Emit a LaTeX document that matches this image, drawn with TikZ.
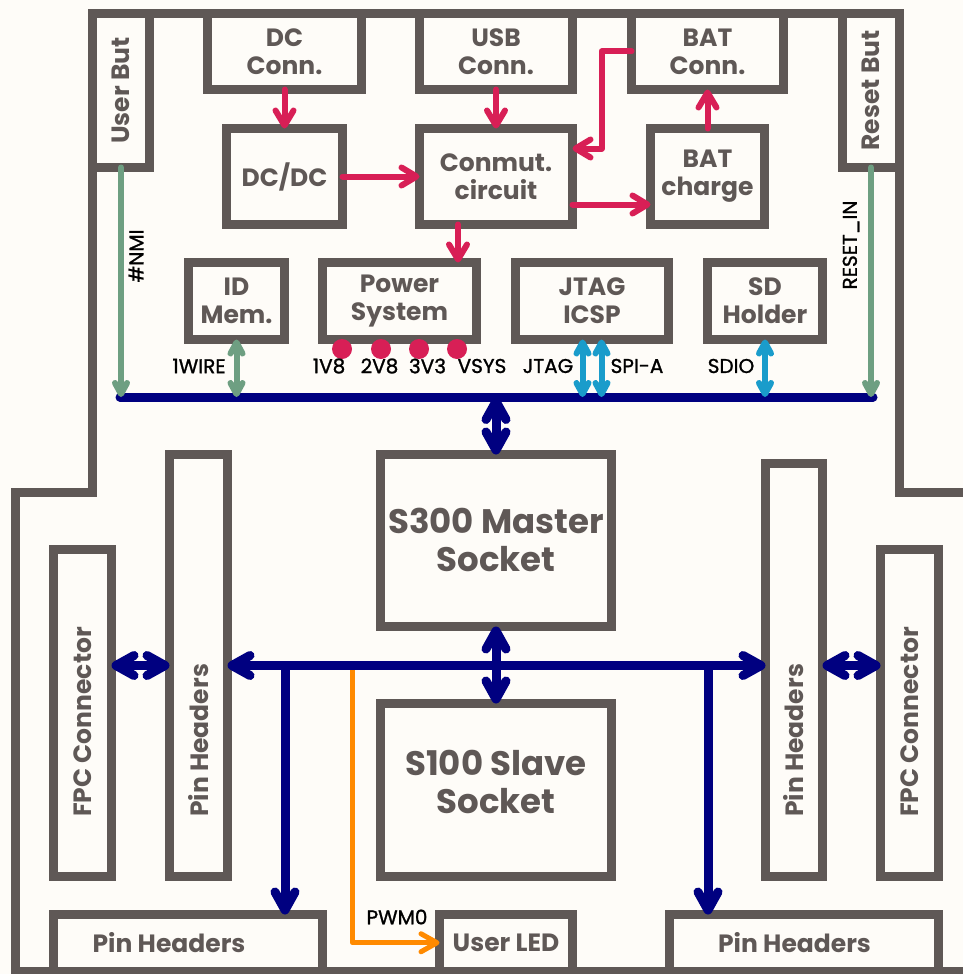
\documentclass[tikz,border=0pt]{standalone}
\usepackage{fontspec}
\setmainfont{Poppins}
\newfontfamily\sigfont{Poppins}[FakeBold=1.2]
\usetikzlibrary{arrows.meta}
\definecolor{paper}{HTML}{FEFCF8}
\definecolor{boxgray}{HTML}{5F5856}
\definecolor{redc}{HTML}{D81F56}
\definecolor{navyc}{HTML}{000080}
\definecolor{greenc}{HTML}{6E9F82}
\definecolor{cyanc}{HTML}{1A9CCB}
\definecolor{orangec}{HTML}{FF8A00}
\tikzset{
  board/.style={draw=boxgray, line width=9pt, line join=miter},
  box/.style={draw=boxgray, line width=9pt, outer sep=0pt, inner sep=0pt, text=boxgray,
    font=\fontsize{25}{28}\selectfont\bfseries, align=center},
  boxtxt/.style={text=boxgray, inner sep=0pt, font=\fontsize{25}{28}\selectfont\bfseries},
  vtxt/.style={boxtxt, rotate=90, anchor=west},
  bigtxt/.style={text=boxgray, inner sep=0pt, align=center, font=\fontsize{34}{38}\selectfont\bfseries},
  sig/.style={text=black, inner sep=0pt, font=\fontsize{20}{22}\sigfont},
  pdot/.style={circle, fill=redc, minimum size=20pt, inner sep=0pt},
  redarr/.style={draw=redc, line width=6pt, line cap=round, line join=round,
    -{Straight Barb[length=15pt,width=18pt,round]}},
  greenarr/.style={draw=greenc, line width=6pt, line cap=round,
    >={Straight Barb[length=11pt,width=12pt,round]}},
  cyanarr/.style={draw=cyanc, line width=6pt, line cap=round,
    >={Straight Barb[length=11pt,width=12pt,round]}},
  navyarr/.style={draw=navyc, line width=9pt, line cap=round,
    >={Straight Barb[length=18pt,width=20pt,round]}},
  bus/.style={draw=navyc, line width=9pt, line cap=round},
  orangearr/.style={draw=orangec, line width=5pt, line cap=round, line join=round,
    -{Straight Barb[length=16pt,width=18pt,round]}}
}
\begin{document}
\begin{tikzpicture}[x=1pt,y=-1pt]
  \fill[paper] (0,0) rectangle (963,974);
  \useasboundingbox (0,0) rectangle (963,974);
  \draw[board] (990,971) -- (15.5,971) -- (15.5,492.5) -- (92.5,492.5) -- (92.5,13.5)
    -- (899.5,13.5) -- (899.5,492.5) -- (990,492.5);
  \node[box, rotate=90, minimum width=154, minimum height=57] (userbut) at (121,90.5) {User But};
  \node[box, minimum width=154, minimum height=76] (dcconn) at (284.5,51.5) {DC\\Conn.};
  \node[box, minimum width=153, minimum height=76] (usbconn) at (496,51.5) {USB\\Conn.};
  \node[box, minimum width=152, minimum height=76] (batconn) at (707.5,51.5) {BAT\\Conn.};
  \node[box, rotate=90, minimum width=154, minimum height=57] (resetbut) at (871,90.5) {Reset But};
  \node[box, minimum width=116, minimum height=96] (dcdc) at (284.5,176.5) {DC/DC};
  \node[box, minimum width=153, minimum height=96] (conmut) at (496,176.5) {Conmut.\\circuit};
  \node[box, minimum width=114, minimum height=96] (batchg) at (707.5,176.5) {BAT\\charge};
  \node[box, minimum width=96, minimum height=77] (idmem) at (236.5,301) {ID\\Mem.};
  \node[box, minimum width=154, minimum height=77] (power) at (399.5,301) {Power\\System};
  \node[box, minimum width=153, minimum height=77] (jtag) at (592,301) {JTAG\\ICSP};
  \node[box, minimum width=115, minimum height=77] (sdhold) at (765,301) {SD\\Holder};
  \node[box, minimum width=231, minimum height=172] (s300) at (496,540.5) {};
  \node[box, minimum width=231, minimum height=173] (s100) at (496,790) {};
  \node[box, rotate=90, minimum width=422, minimum height=58] (phL) at (198.5,665.5) {};
  \node[box, rotate=90, minimum width=327, minimum height=58] (fpcL) at (82.5,713) {};
  \node[box, rotate=90, minimum width=413, minimum height=57] (phR) at (794,670) {};
  \node[box, rotate=90, minimum width=327, minimum height=58] (fpcR) at (909.5,713) {};
  \node[box, minimum width=269, minimum height=56.5] (phbL) at (188,942.75) {};
  \node[box, minimum width=133, minimum height=56.5] (led) at (506,942.75) {User LED};
  \node[box, minimum width=269, minimum height=56.5] (phbR) at (804,942.75) {};
  \node[bigtxt] (s300t) at (496,540) {S300 Master\\Socket};
  \node[bigtxt] (s100t) at (496,782) {S100 Slave\\Socket};
  \node[vtxt] (phLt) at (198.5,817) {Pin Headers};
  \node[vtxt] (fpcLt) at (82.5,817) {FPC Connector};
  \node[vtxt] (phRt) at (794,817) {Pin Headers};
  \node[vtxt] (fpcRt) at (909.5,817) {FPC Connector};
  \node[boxtxt] (phbLt) at (169,942.75) {Pin Headers};
  \node[boxtxt] (phbRt) at (794.5,942.75) {Pin Headers};
  \draw[redarr] (dcconn) -- (dcdc);
  \draw[redarr] (dcdc) -- (conmut);
  \draw[redarr] (usbconn) -- (conmut);
  \draw[redarr] (batconn.west) -- ++(-30,0) |- ([yshift=28pt]conmut.east);
  \draw[redarr] ([yshift=-28pt]conmut.east) -- ([yshift=-28pt]conmut.east -| batchg.west);
  \draw[redarr] (batchg) -- (batconn);
  \draw[redarr] ([xshift=-38pt]conmut.south) -- ([xshift=-38pt]conmut.south |- power.north);
  \foreach \x [count=\i] in {342,381,419,457}
    \node[pdot] (v\i) at (\x,349) {};
  \node[sig] (v1t) at (329,366) {1V8};
  \node[sig] (v2t) at (379.5,366) {2V8};
  \node[sig] (v3t) at (427.5,366) {3V3};
  \node[sig] (v4t) at (482,366) {VSYS};
  \node[sig] (wiret) at (199,366) {1WIRE};
  \node[sig] (jtagt) at (548,366) {JTAG};
  \node[sig] (spit) at (637,366) {SPI-A};
  \node[sig] (sdiot) at (731,366) {SDIO};
  \node[sig, rotate=90] (nmit) at (136,256) {\#NMI};
  \node[sig, rotate=90] (rstt) at (851,245) {RESET\_IN};
  \node[sig] (pwmt) at (397,917) {PWM0};
  \coordinate (busL) at (120,397);
  \coordinate (busR) at (873,397);
  \coordinate (busM) at (496,397);
  \coordinate (jL) at (285,665.5);
  \coordinate (jR) at (708,665.5);
  \coordinate (pwm) at (352.5,665.5);
  \draw[bus] (busL) -- (busR);
  \draw[greenarr, ->] (userbut.west) -- (userbut.west |- busL);
  \draw[greenarr, ->] (resetbut.west) -- (resetbut.west |- busR);
  \draw[greenarr, <->] (idmem) -- (idmem |- busL);
  \draw[cyanarr, <->] ([xshift=-9.5pt]jtag.south) -- ([xshift=-9.5pt]jtag.south |- busL);
  \draw[cyanarr, <->] ([xshift=9.5pt]jtag.south) -- ([xshift=9.5pt]jtag.south |- busL);
  \draw[cyanarr, <->] (sdhold) -- (sdhold |- busL);
  \draw[orangearr] (pwm) |- (led.west);
  \draw[navyarr, <->] (busM) -- (s300);
  \draw[navyarr, <->] (s300) -- (s100);
  \draw[navyarr, <->] (phL.south) -- (phL.south -| phR.north);
  \draw[navyarr, ->] (jL) -- (jL |- phbL.north);
  \draw[navyarr, ->] (jR) -- (jR |- phbR.north);
  \draw[navyarr, <->] (fpcL.south |- phL.north) -- (phL.north);
  \draw[navyarr, <->] (phR.south |- phL.south) -- (fpcR.north |- phL.south);
\end{tikzpicture}
\end{document}
